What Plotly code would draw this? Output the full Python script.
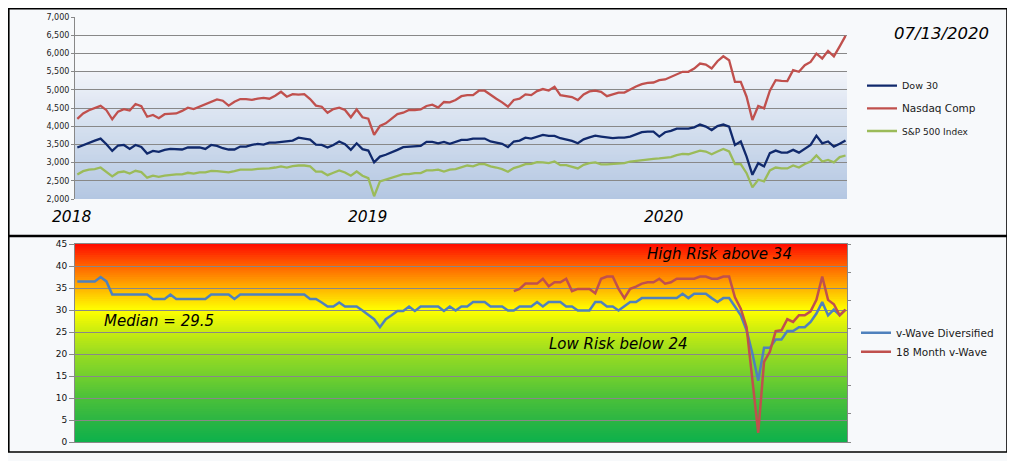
import numpy as np
import pandas as pd
import plotly.graph_objects as go

# the page body adds an 8 px margin, so the figure is 8 px smaller than the window
OFF = 8
W, H = 1015 - OFF, 461 - OFF

# ---------------- data ----------------
dates = pd.date_range("2018-01-01", "2020-07-13", freq="7D")

dow30 = [3415, 3485, 3550, 3605, 3660, 3505, 3320, 3470, 3485, 3375,
         3485, 3430, 3250, 3320, 3295, 3350, 3375, 3360, 3360, 3415,
         3415, 3415, 3375, 3485, 3460, 3395, 3360, 3360, 3440, 3440,
         3485, 3515, 3495, 3550, 3550, 3570, 3580, 3605, 3685, 3660,
         3630, 3495, 3485, 3415, 3485, 3580, 3505, 3350, 3530, 3370,
         3330, 3005, 3165, 3215, 3275, 3350, 3425, 3430, 3440, 3460,
         3570, 3570, 3530, 3570, 3515, 3580, 3625, 3625, 3660, 3660,
         3660, 3580, 3550, 3515, 3425, 3580, 3605, 3685, 3660, 3715,
         3760, 3735, 3735, 3670, 3640, 3595, 3530, 3640, 3695, 3740,
         3715, 3685, 3670, 3685, 3685, 3715, 3780, 3835, 3850, 3850,
         3715, 3835, 3870, 3935, 3935, 3935, 3970, 4045, 3990, 3895,
         4005, 4045, 3990, 3485, 3580, 3165, 2665, 2985, 2895, 3260,
         3330, 3275, 3275, 3350, 3275, 3385, 3485, 3740, 3530, 3580,
         3440, 3515, 3605]

nasdaq = [4200, 4350, 4440, 4490, 4560, 4440, 4190, 4400, 4470, 4430,
          4610, 4550, 4260, 4310, 4220, 4330, 4335, 4350, 4420, 4510,
          4470, 4535, 4600, 4655, 4735, 4700, 4565, 4670, 4745, 4745,
          4725, 4755, 4780, 4755, 4835, 4945, 4810, 4880, 4865, 4880,
          4745, 4565, 4535, 4370, 4470, 4510, 4445, 4245, 4460, 4245,
          4205, 3760, 4005, 4080, 4215, 4335, 4370, 4445, 4445, 4460,
          4555, 4590, 4510, 4665, 4655, 4720, 4825, 4855, 4855, 4975,
          4975, 4855, 4755, 4655, 4535, 4720, 4755, 4875, 4855, 4965,
          5020, 4980, 5085, 4855, 4825, 4800, 4720, 4875, 4955, 4975,
          4945, 4825, 4875, 4920, 4925, 5010, 5090, 5155, 5190, 5200,
          5265, 5285, 5355, 5445, 5495, 5495, 5585, 5720, 5695, 5585,
          5785, 5920, 5810, 5220, 5220, 4810, 4170, 4555, 4490, 4975,
          5265, 5245, 5240, 5540, 5495, 5675, 5765, 5995, 5860, 6070,
          5920, 6195, 6480]

sp500 = [2675, 2765, 2805, 2820, 2865, 2755, 2620, 2730, 2755, 2700,
         2775, 2740, 2585, 2640, 2610, 2640, 2665, 2675, 2675, 2720,
         2700, 2730, 2730, 2775, 2765, 2740, 2730, 2765, 2805, 2805,
         2805, 2830, 2830, 2840, 2865, 2895, 2865, 2905, 2920, 2920,
         2895, 2755, 2750, 2655, 2720, 2785, 2730, 2640, 2755, 2640,
         2575, 2075, 2485, 2530, 2575, 2620, 2685, 2685, 2710, 2710,
         2785, 2785, 2805, 2755, 2805, 2820, 2865, 2920, 2895, 2960,
         2960, 2895, 2865, 2820, 2750, 2850, 2895, 2960, 2965, 3010,
         3005, 2985, 3030, 2930, 2930, 2895, 2840, 2940, 2985, 3005,
         2950, 2950, 2965, 2985, 2985, 3030, 3050, 3075, 3105, 3105,
         3115, 3140, 3150, 3205, 3240, 3230, 3275, 3330, 3305, 3230,
         3305, 3375, 3305, 2960, 2960, 2710, 2320, 2530, 2485, 2785,
         2865, 2840, 2840, 2920, 2865, 2960, 3030, 3195, 3030, 3075,
         3005, 3150, 3195]

vwave_div = [36.5, 36.5, 36.5, 36.5, 37.5, 36.5, 33.5, 33.5, 33.5, 33.5,
             33.5, 33.5, 33.5, 32.5, 32.5, 32.5, 33.5, 32.5, 32.5, 32.5,
             32.5, 32.5, 32.5, 33.5, 33.5, 33.5, 33.5, 32.5, 33.5, 33.5,
             33.5, 33.5, 33.5, 33.5, 33.5, 33.5, 33.5, 33.5, 33.5, 33.5,
             32.5, 32.5, 31.7, 30.8, 30.8, 31.7, 30.8, 30.8, 30.8, 29.9,
             28.8, 27.9, 26.1, 27.9, 28.8, 29.8, 29.8, 30.8, 29.8, 30.8,
             30.8, 30.8, 30.8, 29.8, 30.8, 29.9, 30.8, 30.8, 31.8, 31.8,
             31.8, 30.8, 30.8, 30.8, 29.9, 29.9, 30.8, 30.8, 30.8, 31.8,
             30.8, 31.8, 31.8, 31.8, 30.8, 30.8, 29.9, 29.9, 29.9, 31.8,
             31.8, 30.8, 30.8, 29.9, 30.8, 31.8, 31.8, 32.7, 32.7, 32.7,
             32.7, 32.7, 32.7, 32.7, 33.7, 32.7, 33.7, 33.7, 33.7, 32.7,
             31.8, 32.7, 32.7, 30.8, 28.8, 25.4, 20.1, 13.9, 21.4, 21.4,
             23.3, 23.3, 25.2, 25.2, 26.1, 26.1, 27.3, 29.2, 31.8, 28.8,
             30.1, 28.8, 30.1]

wave18_start = "2019-06-10"
wave18 = [34.3, 34.8, 36.0, 36.0, 36.0, 37.1, 35.4, 36.3, 36.3, 37.1,
          34.3, 34.8, 34.8, 34.8, 33.8, 37.1, 37.6, 37.6, 34.8, 32.7,
          34.8, 35.3, 36.0, 36.3, 36.3, 37.1, 36.0, 36.3, 37.1, 37.1,
          37.1, 37.1, 37.6, 37.6, 37.1, 37.1, 37.6, 37.6, 32.9, 30.3,
          26.1, 14.0, 2.1, 18.2, 20.5, 25.2, 25.4, 27.9, 27.3, 28.8,
          28.8, 29.7, 32.3, 37.6, 32.3, 31.3, 28.8, 30.1]
wave18_dates = dates[dates >= pd.Timestamp(wave18_start)]

year_labels = ["2018", "2019", "2020"]
as_of_label = "07/13/2020"
median_label = "Median = 29.5"
high_label = "High Risk above 34"
low_label = "Low Risk below 24"

# ---------------- helpers (window pixel -> paper fraction) ----------------
def px_x(p):
    return (p - OFF) / W


def px_y(p):
    return 1 - (p - OFF) / H


def interp_color(v, stops):
    vals = [s[0] for s in stops]
    rgb = []
    for k in range(3):
        ch = [int(s[1][1 + 2 * k:3 + 2 * k], 16) for s in stops]
        rgb.append(int(round(np.interp(v, vals, ch))))
    return "rgb(%d,%d,%d)" % tuple(rgb)


FONT = "DejaVu Sans"
GRID = "#888888"
PAGE = "#f7f9fb"

x_range = ["2017-12-29 05:00", "2020-07-14 19:00"]
x_dom = [px_x(75), px_x(847)]

fig = go.Figure()

fig.add_trace(go.Scatter(x=dates, y=dow30, name="Dow 30", mode="lines",
                         line=dict(color="#10296c", width=2.3),
                         xaxis="x", yaxis="y", legend="legend"))
fig.add_trace(go.Scatter(x=dates, y=nasdaq, name="Nasdaq Comp", mode="lines",
                         line=dict(color="#c0504d", width=2.3),
                         xaxis="x", yaxis="y", legend="legend2"))
fig.add_trace(go.Scatter(x=dates, y=sp500, name="S&P 500 Index", mode="lines",
                         line=dict(color="#9bbb59", width=2.3),
                         xaxis="x", yaxis="y", legend="legend3"))
fig.add_trace(go.Scatter(x=dates, y=vwave_div, name="v-Wave Diversified", mode="lines",
                         line=dict(color="#4f81bd", width=2.5),
                         xaxis="x2", yaxis="y2", legend="legend4"))
fig.add_trace(go.Scatter(x=wave18_dates, y=wave18, name="18 Month v-Wave", mode="lines",
                         line=dict(color="#c0504d", width=2.5),
                         xaxis="x2", yaxis="y3", legend="legend5"))

# ---------------- background gradients (decoration) ----------------
shapes = []
top_stops = [(2000, "#b4c7e2"), (3000, "#c4d3e8"), (4000, "#d5e0ef"),
             (4700, "#e1e8f3"), (5000, "#e8edf6"), (5500, "#f1f4f9")]
step = 50
for v in np.arange(2000, 5500, step):
    shapes.append(dict(type="rect", xref="x domain", yref="y", x0=0, x1=1,
                       y0=v, y1=min(v + 2 * step, 5500), layer="below",
                       fillcolor=interp_color(v + step / 2, top_stops),
                       line=dict(width=0)))

bot_stops = [(0, "#0db14b"), (5, "#2cb543"), (10, "#4bc13a"), (15, "#72cf2e"),
             (20, "#98dc22"), (25, "#c8ec10"), (28.5, "#f0f904"), (30, "#ffff00"),
             (33, "#ffd200"), (36, "#ffa200"), (40, "#ff6400"), (45, "#ff0a00")]
bstep = 0.5
for v in np.arange(0, 45, bstep):
    shapes.append(dict(type="rect", xref="x2 domain", yref="y2", x0=0, x1=1,
                       y0=v, y1=min(v + 2 * bstep, 45), layer="below",
                       fillcolor=interp_color(v + bstep / 2, bot_stops),
                       line=dict(width=0)))

# frame of the two panels
shapes.append(dict(type="rect", xref="paper", yref="paper",
                   x0=px_x(8.8), x1=px_x(1007), y0=px_y(452), y1=px_y(8.8),
                   line=dict(color="#000000", width=1.6), layer="above"))
shapes.append(dict(type="line", xref="paper", yref="paper",
                   x0=px_x(8), x1=px_x(1007), y0=px_y(236), y1=px_y(236),
                   line=dict(color="#000000", width=2.4), layer="above"))

# ---------------- annotations ----------------
ann_font = dict(family=FONT, color="#000000", style="italic")
annotations = []
for lbl, cx in zip(year_labels, [71.5, 367.5, 663.5]):
    annotations.append(dict(text=lbl, x=px_x(cx), y=px_y(217), xref="paper", yref="paper",
                            showarrow=False, xanchor="center", yanchor="middle",
                            font=dict(size=15.5, **ann_font)))
annotations.append(dict(text=as_of_label, x=px_x(941), y=px_y(34), xref="paper", yref="paper",
                        showarrow=False, xanchor="center", yanchor="middle",
                        font=dict(size=16.5, **ann_font)))
annotations.append(dict(text=median_label, x=px_x(159), y=px_y(321), xref="paper", yref="paper",
                        showarrow=False, xanchor="center", yanchor="middle",
                        font=dict(size=15, **ann_font)))
annotations.append(dict(text=high_label, x=px_x(719), y=px_y(254), xref="paper", yref="paper",
                        showarrow=False, xanchor="center", yanchor="middle",
                        font=dict(size=15, **ann_font)))
annotations.append(dict(text=low_label, x=px_x(618.5), y=px_y(344), xref="paper", yref="paper",
                        showarrow=False, xanchor="center", yanchor="middle",
                        font=dict(size=15, **ann_font)))


def leg(xp, yp, size):
    return dict(x=px_x(xp), y=px_y(yp), xanchor="left", yanchor="middle",
                bgcolor="rgba(0,0,0,0)", borderwidth=0,
                font=dict(family=FONT, size=size, color="#1a1a1a"))


fig.update_layout(
    width=W, height=H, autosize=False,
    margin=dict(l=0, r=0, t=0, b=0, pad=0),
    paper_bgcolor=PAGE, plot_bgcolor=PAGE,
    showlegend=True,
    legend=leg(862, 85.7, 9.5),
    legend2=leg(862, 108.3, 10.5),
    legend3=leg(862, 131, 9),
    legend4=leg(856, 332.7, 10.5),
    legend5=leg(856, 351.7, 10.5),
    xaxis=dict(domain=x_dom, range=x_range, anchor="y", showgrid=False,
               showticklabels=False, ticks="", showline=False, zeroline=False),
    yaxis=dict(domain=[px_y(199), px_y(17)], range=[2000, 7000], dtick=500, tick0=2000,
               tickformat=",d", anchor="x", showgrid=True, gridcolor=GRID, gridwidth=1,
               showline=True, linecolor=GRID, linewidth=1, ticks="outside", ticklen=3,
               tickcolor=GRID, zeroline=False, automargin=False,
               tickfont=dict(family=FONT, size=8, color="#222222")),
    xaxis2=dict(domain=x_dom, range=x_range, anchor="y2", showgrid=False,
                showticklabels=False, ticks="", showline=True, mirror=True,
                linecolor=GRID, linewidth=1, zeroline=False),
    yaxis2=dict(domain=[px_y(442), px_y(244)], range=[0, 45], dtick=5, tick0=0,
                anchor="x2", showgrid=True, gridcolor=GRID, gridwidth=1,
                showline=True, linecolor=GRID, linewidth=1, ticks="outside", ticklen=5,
                tickcolor=GRID, zeroline=False, automargin=False,
                tickfont=dict(family=FONT, size=9, color="#111111")),
    yaxis3=dict(overlaying="y2", side="right", anchor="x2", range=[0, 45], dtick=45 / 7,
                tick0=0, showgrid=False, showticklabels=False, ticks="outside", ticklen=3,
                tickcolor=GRID, showline=True, linecolor=GRID, linewidth=1,
                zeroline=False, automargin=False),
    shapes=shapes,
    annotations=annotations,
)

fig.write_html("out.html")
